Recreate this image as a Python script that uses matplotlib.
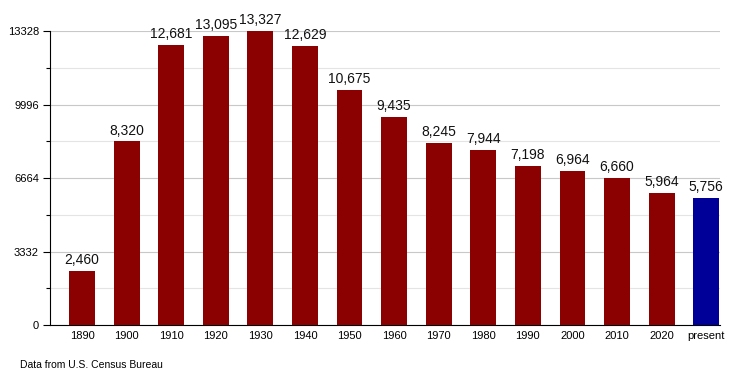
import numpy as np
import matplotlib.pyplot as plt
from matplotlib.ticker import MultipleLocator

plt.rcParams['font.family'] = ['Liberation Sans', 'DejaVu Sans']

years = ['1890', '1900', '1910', '1920', '1930', '1940', '1950', '1960',
         '1970', '1980', '1990', '2000', '2010', '2020', 'present']
population = [2460, 8320, 12681, 13095, 13327, 12629, 10675, 9435,
              8245, 7944, 7198, 6964, 6660, 5964, 5756]
y_ticks = [0, 3332, 6664, 9996, 13328]

if __name__ == '__main__':
    fig = plt.figure(figsize=(7.5, 3.75), dpi=100)
    ax = fig.add_axes([50 / 750, 1 - 325 / 375, 670 / 750, 294 / 375])

    x = np.arange(len(years))
    colors = ['#8b0000'] * (len(years) - 1) + ['#000099']
    bars = ax.bar(x, population, width=0.58, color=colors, zorder=3)
    for xi, v in zip(x, population):
        ax.text(xi, v + 180, '{:,}'.format(v), ha='center', va='bottom',
                fontsize=10, color='#111111', zorder=4)

    ax.set_xlim(-0.72, len(years) - 1 + 0.31)
    ax.set_ylim(0, 13328)
    ax.set_xticks(x)
    ax.set_xticklabels(years, fontsize=8)
    ax.set_yticks(y_ticks)
    ax.set_yticklabels([str(t) for t in y_ticks], fontsize=8)
    ax.yaxis.set_minor_locator(MultipleLocator(1666))
    ax.tick_params(axis='x', length=0, pad=4)
    ax.tick_params(axis='y', which='major', length=5, width=0.8, pad=3)
    ax.tick_params(axis='y', which='minor', length=3, width=0.8)

    ax.grid(axis='y', which='major', color='#c8c8c8', linewidth=0.8, zorder=0)
    ax.grid(axis='y', which='minor', color='#e4e4e4', linewidth=0.8, zorder=0)
    for side in ['top', 'right']:
        ax.spines[side].set_visible(False)
    ax.spines['left'].set_color('black')
    ax.spines['bottom'].set_color('black')

    fig.text(20 / 750, 1 - 365 / 375, 'Data from U.S. Census Bureau',
             fontsize=7.5, va='center', ha='left')

    plt.savefig('out.png', dpi=100)
